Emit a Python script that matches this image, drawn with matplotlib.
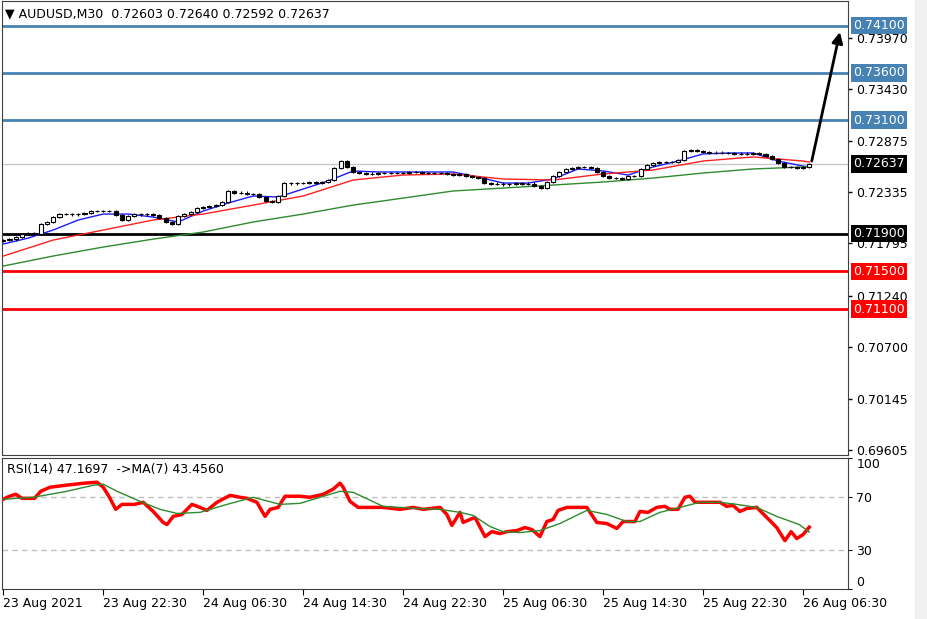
import matplotlib
matplotlib.use("Agg")
import matplotlib.pyplot as plt
from matplotlib.patches import Rectangle
import numpy as np

# M30 closes, bar 0 = 23 Aug 14:30
closes = [
    0.71831, 0.71838, 0.71863, 0.71894, 0.71905, 0.71900, 0.72000, 0.72022, 0.72074, 0.72106,
    0.72110, 0.72102, 0.72108, 0.72117, 0.72138, 0.72135, 0.72140, 0.72136, 0.72096, 0.72043,
    0.72085, 0.72106, 0.72102, 0.72108, 0.72096, 0.72064, 0.72022, 0.72000, 0.72085, 0.72106,
    0.72127, 0.72170, 0.72180, 0.72191, 0.72201, 0.72233, 0.72350, 0.72329, 0.72333, 0.72318,
    0.72322, 0.72286, 0.72244, 0.72233, 0.72297, 0.72434, 0.72430, 0.72438, 0.72432, 0.72445,
    0.72434, 0.72445, 0.72466, 0.72593, 0.72667, 0.72604, 0.72551, 0.72540, 0.72530, 0.72534,
    0.72540, 0.72544, 0.72538, 0.72542, 0.72540, 0.72551, 0.72548, 0.72540, 0.72544, 0.72538,
    0.72542, 0.72530, 0.72519, 0.72530, 0.72509, 0.72498, 0.72487, 0.72434, 0.72424, 0.72428,
    0.72420, 0.72426, 0.72434, 0.72424, 0.72428, 0.72403, 0.72381, 0.72445, 0.72509, 0.72551,
    0.72583, 0.72593, 0.72604, 0.72600, 0.72593, 0.72551, 0.72509, 0.72487, 0.72491, 0.72477,
    0.72509, 0.72505, 0.72583, 0.72625, 0.72646, 0.72657, 0.72653, 0.72660, 0.72678, 0.72773,
    0.72784, 0.72773, 0.72763, 0.72752, 0.72756, 0.72750, 0.72754, 0.72742, 0.72746, 0.72740,
    0.72752, 0.72742, 0.72720, 0.72689, 0.72646, 0.72604, 0.72600, 0.72593, 0.72603, 0.72637,
]
first_open = 0.71820
wick = 0.00012

# moving averages (sampled bars)
blue_bars = list(range(0, 129, 4)) + [129]
blue_ma = [0.71789, 0.71852, 0.71937, 0.72043, 0.72106, 0.72106, 0.72074, 0.72022, 0.72138,
           0.72223, 0.72297, 0.72286, 0.72371, 0.72456, 0.72562, 0.72551, 0.72551, 0.72551,
           0.72551, 0.72498, 0.72434, 0.72434, 0.72477, 0.72583, 0.72562, 0.72519, 0.72604,
           0.72667, 0.72742, 0.72752, 0.72752, 0.72667, 0.72614, 0.72604]
slow_bars = list(range(0, 129, 8)) + [129]
red_ma = [0.71662, 0.71831, 0.71937, 0.72043, 0.72106, 0.72201, 0.72297, 0.72466, 0.72519,
          0.72530, 0.72477, 0.72466, 0.72530, 0.72572, 0.72667, 0.72710, 0.72667, 0.72657]
green_ma = [0.71556, 0.71662, 0.71757, 0.71841, 0.71916, 0.72022, 0.72106, 0.72201, 0.72275,
            0.72350, 0.72381, 0.72413, 0.72445, 0.72487, 0.72540, 0.72583, 0.72604, 0.72604]

blue_levels = [0.74100, 0.73600, 0.73100]
black_levels = [0.71900]
red_levels = [0.71500, 0.71100]
last_price = 0.72637
arrow_target = 0.74060

price_ticks = [0.73970, 0.73430, 0.72875, 0.72335, 0.71795, 0.71240, 0.70700, 0.70145, 0.69605]

# RSI(14) and its MA(7)
rsi_bars = [0, 1, 2, 3, 5, 6, 7.5, 10, 13, 15, 16, 17, 18, 19, 21, 22.4, 24, 25.6, 26.2, 27.2,
            28.6, 30.2, 31.5, 32.6, 34.2, 36.3, 37.9, 39, 40.6, 41.9, 42.7, 44, 45.1, 47.5, 49.1,
            51.2, 52.8, 53.9, 54.4, 55.5, 56.8, 58.2, 60.8, 63.5, 65.6, 67.2, 69.9, 71, 71.8,
            73.1, 73.6, 74.7, 75.5, 77.1, 78.2, 79.5, 80.6, 82.2, 83.5, 84.6, 85.9, 87, 88,
            88.8, 90.2, 93.4, 95, 96.6, 98.2, 99.2, 101.1, 101.9, 103.2, 104.6, 105.9, 106.7,
            108, 109.1, 109.9, 110.7, 112.6, 114.7, 115.8, 116.8, 117.9, 119, 120.6, 122.2,
            123.8, 125.1, 126.1, 127, 128, 129]
rsi_vals = [68.5, 70.8, 72.3, 69.2, 69.2, 74.6, 77.7, 79.2, 80.8, 81.5, 77.7, 70.0, 60.8, 64.6,
            64.6, 66.2, 59.2, 50.8, 49.2, 55.4, 56.9, 64.6, 62.3, 60.0, 66.2, 71.5, 70.0, 69.2,
            66.2, 55.4, 60.8, 62.3, 70.8, 70.8, 70.0, 72.3, 76.2, 80.8, 77.7, 66.9, 62.3, 62.3,
            62.3, 60.8, 62.3, 60.8, 62.3, 56.9, 48.5, 58.5, 50.8, 53.1, 54.6, 40.0, 43.8, 42.3,
            43.8, 44.6, 46.9, 45.4, 40.0, 51.5, 53.1, 60.0, 62.3, 62.3, 50.8, 50.0, 46.2, 51.5,
            51.5, 59.2, 58.5, 62.3, 63.1, 60.8, 60.8, 70.0, 70.8, 66.2, 66.2, 66.2, 63.1, 63.8,
            59.2, 61.5, 62.3, 54.6, 46.9, 36.9, 43.8, 38.5, 41.5, 47.2]
rsi_ma_bars = [0, 4.8, 10.2, 14.4, 16, 18.2, 21.9, 25.1, 27.8, 31.5, 35.8, 40, 44.3, 47.5, 50.7,
               53.9, 56, 60.8, 66.2, 69.9, 73.1, 75.2, 77.9, 80, 82.7, 85.9, 89.1, 93.4, 96.6,
               99.8, 101.9, 105.1, 108.3, 111.5, 114.7, 117.4, 120.6, 123.8, 127.4, 129]
rsi_ma_vals = [68.5, 70.0, 74.6, 79.2, 80.0, 74.6, 66.9, 60.8, 57.7, 58.5, 64.6, 70.0, 64.6, 65.4,
               70.0, 74.6, 73.8, 63.1, 61.5, 60.8, 58.5, 56.2, 47.7, 43.8, 43.1, 44.6, 50.0, 60.0,
               56.9, 51.5, 51.5, 58.5, 62.3, 66.2, 66.2, 64.6, 62.3, 55.4, 49.2, 43.5]

time_ticks = [0, 16, 32, 48, 64, 80, 96, 112, 128]
time_labels = ["23 Aug 2021", "23 Aug 22:30", "24 Aug 06:30", "24 Aug 14:30", "24 Aug 22:30",
               "25 Aug 06:30", "25 Aug 14:30", "25 Aug 22:30", "26 Aug 06:30"]

W, H = 927, 619
fig = plt.figure(figsize=(W / 100, H / 100), dpi=100)
fig.patches.append(Rectangle((915 / W, 0), 1, 1, transform=fig.transFigure,
                             color="#f0f0f0", zorder=-1))

def px_axes(x0, y0, x1, y1):
    return fig.add_axes([x0 / W, 1 - y1 / H, (x1 - x0) / W, (y1 - y0) / H])

ax = px_axes(2, 1, 848, 455)
ax2 = px_axes(2, 458, 848, 589)

xlim = (-0.2, 135.2)
fs = 9

# ---- price panel ----
opens = [first_open] + closes[:-1]
bars = np.arange(len(closes))
for i in bars:
    o, c = opens[i], closes[i]
    lo, hi = min(o, c), max(o, c)
    ax.vlines(i, lo - wick, hi + wick, color="black", lw=0.8, zorder=4)
    body = max(hi - lo, 0.00002)
    ax.bar(i, body, bottom=lo, width=0.65, color="white" if c >= o else "black",
           edgecolor="black", lw=0.8, zorder=5)

ax.plot(blue_bars, blue_ma, color="#1a1aff", lw=1, zorder=3)
ax.plot(slow_bars, red_ma, color="#ff2020", lw=1, zorder=3)
ax.plot(slow_bars, green_ma, color="#2e8b2e", lw=1, zorder=3)

ax.axhline(last_price, color="#c8c8c8", lw=1, zorder=1)
for lv in blue_levels:
    ax.axhline(lv, color="#4682b4", lw=2, zorder=2)
for lv in black_levels:
    ax.axhline(lv, color="black", lw=2, zorder=2)
for lv in red_levels:
    ax.axhline(lv, color="#ff0000", lw=2, zorder=2)

ax.annotate("", xy=(134.0, arrow_target), xytext=(129.3, last_price),
            arrowprops=dict(arrowstyle="-|>", lw=2, color="black", mutation_scale=16),
            zorder=6)

ax.set_xlim(*xlim)
ax.set_ylim(0.69557, 0.74360)
ax.set_xticks([])
ax.yaxis.tick_right()
ax.set_yticks(price_ticks)
ax.set_yticklabels(["%.5f" % t for t in price_ticks])
ax.tick_params(axis="y", direction="out", length=3, pad=3, labelsize=fs, width=1)
for s in ax.spines.values():
    s.set_color("#404040")

tr = ax.get_yaxis_transform()
box_labels = [(lv, "#4682b4") for lv in blue_levels] + [(last_price, "black")] + \
             [(lv, "black") for lv in black_levels] + [(lv, "#ff0000") for lv in red_levels]
for lv, col in box_labels:
    ax.text(1.006, lv, "%.5f" % lv, transform=tr, fontsize=fs, color="white",
            va="center", ha="left", zorder=10, clip_on=False,
            bbox=dict(boxstyle="square,pad=0.18", fc=col, ec="none"))

ax.text(0.004, 0.985, "\u25bc AUDUSD,M30  0.72603 0.72640 0.72592 0.72637",
        transform=ax.transAxes, fontsize=fs, va="top", ha="left")

# ---- RSI panel ----
ax2.axhline(70, color="#c0c0c0", lw=1, ls=(0, (4, 3)))
ax2.axhline(30, color="#c0c0c0", lw=1, ls=(0, (4, 3)))
ax2.plot(rsi_bars, rsi_vals, color="#ff0000", lw=2.5, zorder=3)
ax2.plot(rsi_ma_bars, rsi_ma_vals, color="#2e8b2e", lw=1, zorder=4)
ax2.set_xlim(*xlim)
ax2.set_ylim(0, 100)
ax2.yaxis.tick_right()
ax2.set_yticks([0, 30, 70, 100])
ax2.set_yticklabels(["0", "30", "70", "100"])
ax2.tick_params(axis="y", direction="out", length=3, pad=3, labelsize=fs)
ylabels = ax2.get_yticklabels()
ylabels[0].set_va("bottom")
ylabels[3].set_va("top")
ax2.set_xticks(time_ticks)
ax2.set_xticklabels(time_labels)
ax2.tick_params(axis="x", direction="out", length=4, pad=2, labelsize=fs)
for lab in ax2.get_xticklabels():
    lab.set_ha("left")
for s in ax2.spines.values():
    s.set_color("#404040")
ax2.text(0.006, 0.96, "RSI(14) 47.1697  ->MA(7) 43.4560", transform=ax2.transAxes,
         fontsize=fs, va="top", ha="left")

fig.savefig("out.png", dpi=100)
